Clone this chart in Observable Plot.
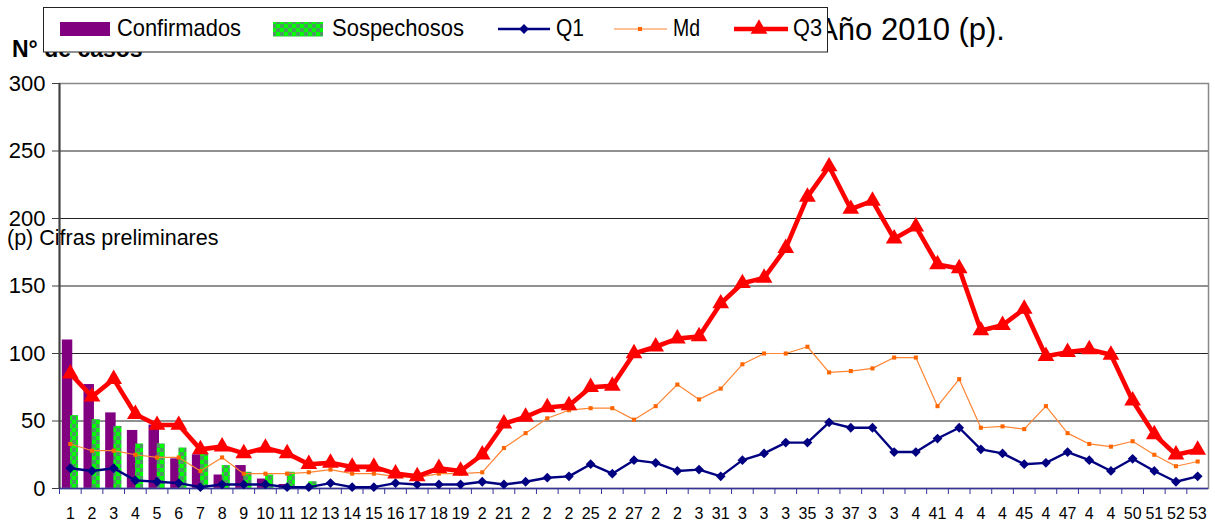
<!DOCTYPE html>
<html>
<head>
<meta charset="utf-8">
<script src="https://cdn.jsdelivr.net/npm/d3@7"></script>
<script src="https://cdn.jsdelivr.net/npm/@observablehq/plot@0.6"></script>
<style>
  body { margin: 0; background: #fff; }
  #wrap { position: relative; width: 1215px; height: 521px; overflow: hidden; background: #fff; }
  #wrap > svg { position: absolute; left: 0; top: 0; }
</style>
</head>
<body>
<svg width="0" height="0" style="position:absolute">
  <defs>
    <pattern id="checks" width="8" height="8" patternUnits="userSpaceOnUse">
      <rect width="8" height="8" fill="#00ff00"></rect>
      <rect x="0" y="0" width="4" height="4" fill="#4a9a62"></rect>
      <rect x="4" y="4" width="4" height="4" fill="#4a9a62"></rect>
    </pattern>
  </defs>
</svg>
<div id="wrap"></div>
<script>
const FONT = "'Liberation Sans', Arial, Helvetica, sans-serif";

// ---- data ----
const weeks = d3.range(1, 54);
const weekLabels = ["1","2","3","4","5","6","7","8","9","10","11","12","13","14","15","16","17","18","19","2",
  "21","2","2","2","25","2","27","2","2","3","31","3","3","3","35","3","37","3","3","4",
  "41","4","4","4","45","4","47","4","4","50","51","52","53"];
const barWeeks     = [1, 2, 3, 4, 5, 6, 7, 8, 9, 10, 11, 12];
const confirmados  = [110, 77, 56, 43, 47, 22, 25, 10, 17, 7, 3, 0];
const sospechosos  = [54, 51, 46, 33, 33, 30, 26, 17, 12, 10, 12, 5];
const q1 = [15,13,15,6,5,4,1,3,3,3, 1,1,4,1,1,4,3,3,3,5, 3,5,8,9,18,11,21,19,13,14,
            9,21,26,34,34,49,45,45,27,27, 37,45,29,26,18,19,27,21,13,22, 13,5,9];
const md = [33,28,28,25,23,23,13,23,11,11, 11,12,14,11,11,9,8,11,11,12, 30,41,52,58,59.5,59.5,51,61,77,66,
            74,92,100,100,105,86,87,89,97,97, 61,81,45,46,44,61,41,33,31,35, 25,16.5,20];
const q3 = [85,68,81,55,47,47,29,31,26,30, 26,18,19,16,16,11,9,15,13,25, 48,53,60,61.5,75,76,100,105,111,112.6,
            137,152,156,178,216,238.5,207,213,185,194, 166,163,117,121,133,98,101,103,99,65, 40,25,28.6];
const yTicks = [0, 50, 100, 150, 200, 250, 300];
const seriesNames = ["Confirmados", "Sospechosos", "Q1", "Md", "Q3"];
const titleText = "Año 2010 (p).";
const yTitle = "N° de casos";
const noteText = "(p) Cifras preliminares";

// ---- tables ----
const barRows = barWeeks.map((w, i) => ({week: w, conf: confirmados[i], sosp: sospechosos[i]}));
const lineRows = weeks.map((w, i) => ({week: w, q1: q1[i], md: md[i], q3: q3[i]}));

const W = 1215, H = 521, mL = 59, mR = 7, mT = 83, mB = 33;
const bw = (W - mL - mR) / weeks.length;

const COL = {conf: "#800080", q1: "#000080", mdLine: "#ff8533", mdDot: "#ff6600", q3: "#ff0000"};
const R = {q1: 4.4, md: 2.3, q3: 6.2};

const chart = Plot.plot({
  width: W, height: H,
  marginLeft: mL, marginRight: mR, marginTop: mT, marginBottom: mB,
  style: {fontFamily: FONT, background: "white", color: "black", overflow: "visible"},
  x: {type: "band", domain: weeks, padding: 0, label: null},
  y: {domain: [0, 300], label: null},
  marks: [
    Plot.ruleY(yTicks.filter(d => d > 0 && d < 300), {stroke: "#222", strokeWidth: 1}),
    Plot.barY(barRows, {x: "week", y: "conf", fill: COL.conf, insetLeft: 2.8, insetRight: 8.4}),
    Plot.barY(barRows, {x: "week", y: "sosp", fill: "url(#checks)", insetLeft: 11, insetRight: 2.6}),
    Plot.frame({stroke: "#888", strokeWidth: 1.5}),
    Plot.ruleX([weeks[0]], {dx: -bw / 2, stroke: "#404040", strokeWidth: 2}),
    Plot.ruleY([0], {stroke: "#333399", strokeWidth: 1.5}),
    Plot.line(lineRows, {x: "week", y: "q1", stroke: COL.q1, strokeWidth: 2.4}),
    Plot.dot(lineRows, {x: "week", y: "q1", symbol: "diamond2", r: R.q1, fill: COL.q1, stroke: "none"}),
    Plot.line(lineRows, {x: "week", y: "md", stroke: COL.mdLine, strokeWidth: 1.2}),
    Plot.dot(lineRows, {x: "week", y: "md", symbol: "square", r: R.md, fill: COL.mdDot, stroke: "none"}),
    Plot.line(lineRows, {x: "week", y: "q3", stroke: COL.q3, strokeWidth: 4.6, strokeLinejoin: "miter"}),
    Plot.dot(lineRows, {x: "week", y: "q3", symbol: "triangle", r: R.q3, fill: COL.q3, stroke: "none"}),
    Plot.axisY({ticks: yTicks, tickSize: 7, tickPadding: 7, fontSize: 22, stroke: "#404040", tickFormat: d => String(d)}),
    Plot.axisX({tickSize: 0, tickPadding: 19, fontSize: 16, tickFormat: d => weekLabels[d - 1]}),
    Plot.axisX({tickSize: 6, tickPadding: 0, tickFormat: () => "", dx: -bw / 2, stroke: "#333399"})
  ]
});
document.getElementById("wrap").appendChild(chart);

// ---- overlay: y title, title, note, legend ----
const ov = d3.select("#wrap").append("svg")
  .attr("width", W).attr("height", H)
  .attr("font-family", FONT)
  .style("pointer-events", "none");

ov.append("text").attr("x", 12).attr("y", 56.5)
  .attr("font-size", 23).attr("font-weight", "bold").text(yTitle);

ov.append("text").attr("x", 1005).attr("y", 40)
  .attr("text-anchor", "end").attr("font-size", 31).text(titleText);

ov.append("text").attr("x", 7).attr("y", 245).attr("font-size", 21.5).text(noteText);

const lg = ov.append("g");
lg.append("rect").attr("x", 43.5).attr("y", 7.5).attr("width", 784).attr("height", 44.5)
  .attr("fill", "white").attr("stroke", "#222").attr("stroke-width", 1);

const legendY = 29, textBase = 36;
// Confirmados
lg.append("rect").attr("x", 60).attr("y", 22).attr("width", 50).attr("height", 14).attr("fill", COL.conf);
lg.append("text").attr("x", 117).attr("y", textBase).attr("font-size", 24)
  .attr("textLength", 124).attr("lengthAdjust", "spacingAndGlyphs").text(seriesNames[0]);
// Sospechosos
lg.append("rect").attr("x", 273).attr("y", 22).attr("width", 50).attr("height", 14.5).attr("fill", "url(#checks)");
lg.append("text").attr("x", 332).attr("y", textBase).attr("font-size", 24)
  .attr("textLength", 132).attr("lengthAdjust", "spacingAndGlyphs").text(seriesNames[1]);
// Q1
lg.append("line").attr("x1", 498).attr("x2", 550).attr("y1", legendY).attr("y2", legendY)
  .attr("stroke", COL.q1).attr("stroke-width", 2.4);
lg.append("path").attr("transform", `translate(524,${legendY})`)
  .attr("d", d3.symbol(d3.symbolDiamond2, Math.PI * R.q1 * R.q1)()).attr("fill", COL.q1);
lg.append("text").attr("x", 556).attr("y", textBase).attr("font-size", 24)
  .attr("textLength", 28).attr("lengthAdjust", "spacingAndGlyphs").text(seriesNames[2]);
// Md
lg.append("line").attr("x1", 614).attr("x2", 667).attr("y1", legendY).attr("y2", legendY)
  .attr("stroke", COL.mdLine).attr("stroke-width", 1.2);
lg.append("path").attr("transform", `translate(640,${legendY})`)
  .attr("d", d3.symbol(d3.symbolSquare, Math.PI * R.md * R.md)()).attr("fill", COL.mdDot);
lg.append("text").attr("x", 673).attr("y", textBase).attr("font-size", 24)
  .attr("textLength", 27).attr("lengthAdjust", "spacingAndGlyphs").text(seriesNames[3]);
// Q3
lg.append("line").attr("x1", 734).attr("x2", 788).attr("y1", legendY).attr("y2", legendY)
  .attr("stroke", COL.q3).attr("stroke-width", 4.6);
lg.append("path").attr("transform", `translate(759,${legendY})`)
  .attr("d", d3.symbol(d3.symbolTriangle, Math.PI * R.q3 * R.q3)()).attr("fill", COL.q3);
lg.append("text").attr("x", 793).attr("y", textBase).attr("font-size", 24)
  .attr("textLength", 29).attr("lengthAdjust", "spacingAndGlyphs").text(seriesNames[4]);
</script>
</body>
</html>
